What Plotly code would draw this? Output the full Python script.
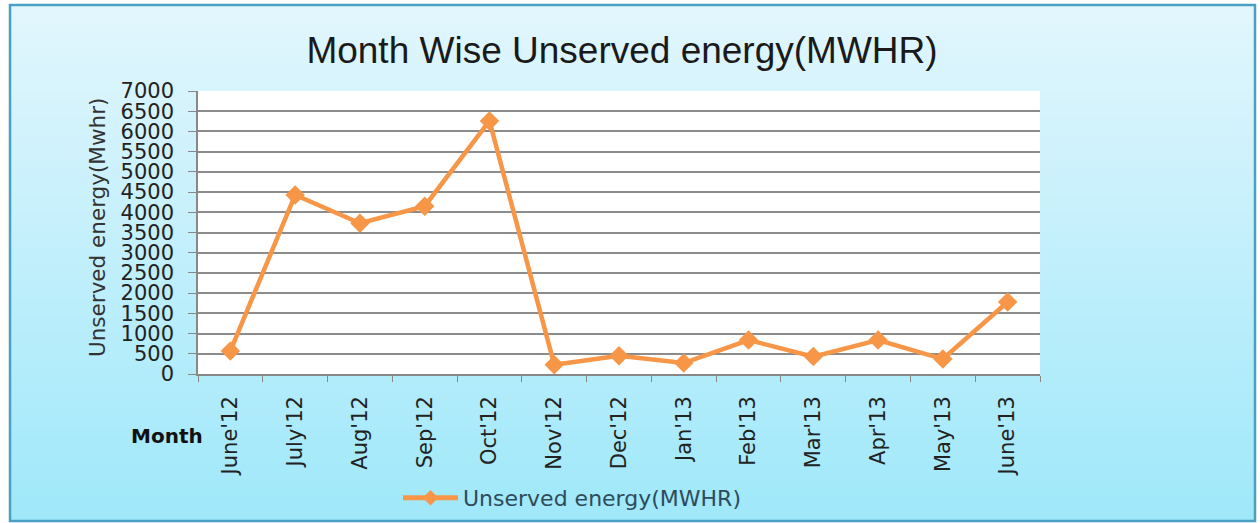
import plotly.graph_objects as go

months = ["June'12", "July'12", "Aug'12", "Sep'12", "Oct'12", "Nov'12", "Dec'12",
          "Jan'13", "Feb'13", "Mar'13", "Apr'13", "May'13", "June'13"]
unserved = [570, 4430, 3730, 4150, 6260, 230, 450, 270, 840, 430, 840, 370, 1780]
y_ticks = list(range(0, 7001, 500))

W, H = 1260, 523
L, R, T, B = 198, 220, 91, 149
PW, PH = W - L - R, H - T - B
FONT = "DejaVu Sans"

def px_x(px):
    return (px - L) / PW

def px_y(py):
    return (H - B - py) / PH

fig = go.Figure()
fig.add_trace(go.Scatter(
    x=months, y=unserved, mode="lines+markers",
    name="Unserved energy(MWHR)",
    line=dict(color="#F79646", width=4.5),
    marker=dict(symbol="diamond", size=15, color="#F79646"),
))

# gradient background bands
shapes = []
top = (0xE2, 0xF6, 0xFD)
bot = (0x9F, 0xE8, 0xFA)
n = 60
for i in range(n):
    t = i / (n - 1)
    c = tuple(round(top[k] + (bot[k] - top[k]) * t) for k in range(3))
    y0 = 5 + i * (H - 5) / n
    y1 = 5 + (i + 1) * (H - 5) / n + 1
    shapes.append(dict(type="rect", xref="paper", yref="paper",
                       x0=px_x(10), x1=px_x(1255), y0=px_y(min(y1, 521)), y1=px_y(y0),
                       fillcolor="rgb(%d,%d,%d)" % c, line=dict(width=0), layer="below"))
shapes.append(dict(type="rect", xref="paper", yref="paper", x0=0, x1=1, y0=0, y1=1,
                   fillcolor="white", line=dict(width=0), layer="below"))
shapes.append(dict(type="rect", xref="paper", yref="paper",
                   x0=px_x(10), x1=px_x(1255), y0=px_y(521), y1=px_y(5),
                   fillcolor="rgba(0,0,0,0)", line=dict(color="#4A9FC4", width=2.5), layer="above"))

fig.update_layout(
    width=W, height=H,
    margin=dict(l=L, r=R, t=T, b=B, autoexpand=False),
    paper_bgcolor="white",
    plot_bgcolor="white",
    shapes=shapes,
    showlegend=True,
    title=dict(text="Month Wise Unserved energy(MWHR)", x=px_x(622), xref="paper",
               xanchor="center", y=1 - 50 / H, yanchor="middle",
               font=dict(family="Liberation Sans, Arial", size=37, color="#1a1a1a")),
    legend=dict(orientation="h", xref="container", yref="container",
                x=398 / W, y=(H - 498) / H, xanchor="left", yanchor="middle",
                bgcolor="rgba(0,0,0,0)", itemwidth=55, itemsizing="constant",
                font=dict(family=FONT, size=22, color="#2F4B5A")),
    font=dict(family=FONT, size=21, color="#222"),
    annotations=[
        dict(text="<b>Month</b>", xref="paper", yref="paper", x=px_x(167), y=px_y(436),
             showarrow=False, xanchor="center", yanchor="middle",
             font=dict(family=FONT, size=20, color="#111")),
        dict(text="Unserved energy(Mwhr)", xref="paper", yref="paper", x=px_x(97), y=px_y(228),
             showarrow=False, textangle=-90, xanchor="center", yanchor="middle",
             font=dict(family=FONT, size=21.5, color="#333")),
    ],
)
fig.update_xaxes(
    type="category", range=[-0.5, 12.5], tickangle=-90,
    tickson="boundaries", ticks="outside", ticklen=6, tickcolor="#888",
    showline=True, linecolor="#888", linewidth=1.5, showgrid=False,
    ticklabelstandoff=12,
    tickfont=dict(family=FONT, size=21, color="#222"),
)
fig.update_yaxes(
    range=[0, 7000], tickvals=y_ticks, ticks="outside", ticklen=8, tickcolor="#888",
    showline=True, linecolor="#888", linewidth=1.5,
    showgrid=True, gridcolor="#8C8C8C", gridwidth=1.5, zeroline=False,
    ticklabelstandoff=10,
    tickfont=dict(family=FONT, size=21, color="#222"),
)
fig.write_html("out.html", config={"displayModeBar": False},
               post_script="document.body.style.margin='0';")
